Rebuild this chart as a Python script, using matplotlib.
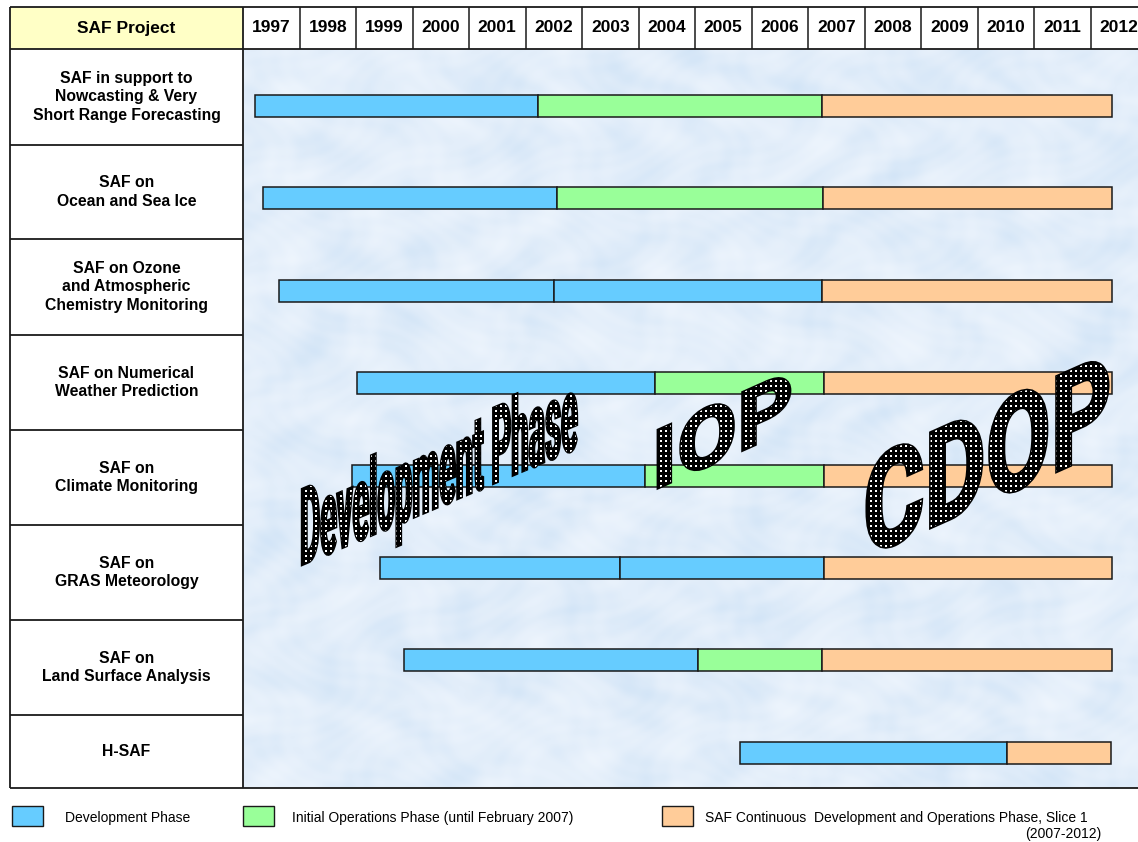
# SAF project timeline (gantt style table with word-art phase labels)
import matplotlib.pyplot as plt
import numpy as np
from matplotlib.patches import PathPatch, Rectangle
from matplotlib.textpath import TextPath
from matplotlib.font_manager import FontProperties
from matplotlib.transforms import Affine2D
from matplotlib.colors import LinearSegmentedColormap

plt.rcParams['font.family'] = ['Liberation Sans', 'DejaVu Sans']

### DATA ###
projects = ["SAF in support to\nNowcasting & Very\nShort Range Forecasting",
            "SAF on\nOcean and Sea Ice",
            "SAF on Ozone\nand Atmospheric\nChemistry Monitoring",
            "SAF on Numerical\nWeather Prediction",
            "SAF on\nClimate Monitoring",
            "SAF on\nGRAS Meteorology",
            "SAF on\nLand Surface Analysis",
            "H-SAF"]
years = list(range(1997, 2013))

# phase boundaries in decimal years
dev_start = [1997.21, 1997.35, 1997.64, 1999.02, 1998.93, 1999.42, 1999.85, 2005.80]
split = [2002.22, 2002.56, 2002.50, 2004.29, 2004.12, 2003.67, 2005.05, 2010.52]
second_phase = ["iop", "iop", "dev", "iop", "iop", "dev", "iop", "cdop"]
cdop_start = [2007.25, 2007.27, 2007.25, 2007.28, 2007.28, 2007.28, 2007.25, 2010.52]
cdop_end = [2012.38, 2012.38, 2012.38, 2012.38, 2012.38, 2012.38, 2012.38, 2012.36]

legend_labels = ["Development Phase",
                 "Initial Operations Phase (until February 2007)",
                 "SAF Continuous  Development and Operations Phase, Slice 1"]

colors = {"dev": "#66ccff", "iop": "#99ff99", "cdop": "#ffcc99"}
edge = "#1a1a1a"

### LAYOUT (pixels) ###
W, H = 1138, 842
x_left, x_col, x_right = 10, 243, 1138
y_top, y_head, y_bot = 7, 49, 788
px_year = 56.5
row_edges = [49, 145, 239, 335, 430, 525, 620, 715, 788]
row0, row_step = 106, 92.4   # bar centre of first row and spacing

fig = plt.figure(figsize=(W / 100, H / 100), dpi=100)

# chart area
ax = fig.add_axes([x_col / W, 1 - y_bot / H, (x_right - x_col) / W, (y_bot - y_head) / H])
ax.set_zorder(1)
ax.set_xlim(1997, 1997 + (x_right - x_col) / px_year)
ax.set_ylim((y_bot - row0) / row_step, (y_head - row0) / row_step)
ax.axis('off')

# mottled light blue background
gy, gx = np.mgrid[0:1:300j, 0:1:380j]
tex = (np.sin(gx * 31 + 3 * np.sin(gy * 17 + gx * 5)) * np.cos(gy * 27 + 2 * np.sin(gx * 19))
       + 0.7 * np.sin(gx * 71 + 4 * np.cos(gy * 23)) * np.sin(gy * 67 + 3 * np.sin(gx * 11))
       + 0.4 * np.sin(gx * 153 + 5 * np.sin(gy * 41)) * np.cos(gy * 171 + 4 * np.cos(gx * 37)))
bg = LinearSegmentedColormap.from_list("bg", ["#d3e5f7", "#e3eefa", "#eef5fd"])
ax.imshow(tex, cmap=bg, extent=(0, 1, 0, 1), transform=ax.transAxes, aspect='auto',
          interpolation='bicubic', zorder=0)

bh = 22 / row_step
for i in range(len(projects)):
    ax.barh(i, split[i] - dev_start[i], left=dev_start[i], height=bh,
            color=colors["dev"], edgecolor=edge, lw=1.1, zorder=2)
    if cdop_start[i] > split[i]:
        ax.barh(i, cdop_start[i] - split[i], left=split[i], height=bh,
                color=colors[second_phase[i]], edgecolor=edge, lw=1.1, zorder=2)
    ax.barh(i, cdop_end[i] - cdop_start[i], left=cdop_start[i], height=bh,
            color=colors["cdop"], edgecolor=edge, lw=1.1, zorder=2)

# header with years
hx = fig.add_axes([x_col / W, 1 - y_head / H, (x_right - x_col) / W, (y_head - y_top) / H])
hx.set_xlim(ax.get_xlim())
hx.set_ylim(0, 1)
hx.axis('off')
hx.vlines(years[1:], 0, 1, color=edge, lw=1.1)
for yr in years:
    hx.text(yr + 0.5, 0.5, str(yr), ha='center', va='center', fontsize=12.5, fontweight='bold')

# table frame, project labels, legend
fr = fig.add_axes([0, 0, 1, 1])
fr.set_zorder(2)
fr.set_xlim(0, W)
fr.set_ylim(H, 0)
fr.axis('off')
fr.add_patch(Rectangle((x_left, y_top), x_col - x_left, y_head - y_top, facecolor="#ffffc6",
                       edgecolor='none', zorder=0))
fr.text((x_left + x_col) / 2, (y_top + y_head) / 2, "SAF Project", ha='center', va='center',
        fontsize=12.5, fontweight='bold')
fr.hlines([y_top, y_head, y_bot], x_left, x_right, color=edge, lw=1.3)
fr.hlines(row_edges[1:-1], x_left, x_col, color=edge, lw=1.3)
fr.vlines([x_left, x_col], y_top, y_bot, color=edge, lw=1.3)
for i, name in enumerate(projects):
    fr.text((x_left + x_col) / 2, (row_edges[i] + row_edges[i + 1]) / 2, name, ha='center',
            va='center', fontsize=11.3, fontweight='bold', linespacing=1.3)

leg_x = [12, 243, 662]
leg_tx = [65, 292, 705]
for k, key in enumerate(["dev", "iop", "cdop"]):
    fr.add_patch(Rectangle((leg_x[k], 806), 31, 20, facecolor=colors[key], edgecolor=edge, lw=1))
    fr.text(leg_tx[k], 818, legend_labels[k], ha='left', va='center', fontsize=10)
fr.text(1101, 834, "(2007-2012)", ha='right', va='center', fontsize=10)

# word-art phase captions: black letters with white dot grid
art = fig.add_axes([0, 0, 1, 1])
art.set_zorder(3)
art.axis('off')
rows = np.arange(H)[:, None] % 5 < 2
cols = np.arange(W)[None, :] % 5 < 2
dots = np.zeros((H, W, 4))
dots[..., 3] = 1
dots[rows & cols] = [1, 1, 1, 1]
fp = FontProperties(family='Roboto', weight='bold')
cap_ref = TextPath((0, 0), "H", size=100, prop=fp).get_extents().height


def wordart(text, x0, y0, width, cap, slope, lw):
    tp = TextPath((0, 0), text, size=100, prop=fp)
    ext = tp.get_extents()
    tr = (Affine2D().translate(-ext.x0, 0).scale(width / ext.width, cap / cap_ref)
          .skew_deg(0, slope).translate(x0, H - y0))
    body = PathPatch(tr.transform_path(tp), facecolor='black', edgecolor='black', lw=lw, zorder=5)
    art.add_patch(body)
    im = art.imshow(dots, extent=(0, W, 0, H), interpolation='none', zorder=6)
    im.set_clip_path(body)


wordart("Development Phase", 302, 565, 275, 76, 23, 1.7)
wordart("IOP", 658, 488, 132, 58, 24, 2.0)
wordart("CDOP", 867, 556, 241, 95, 24, 2.2)
art.set_xlim(0, W)
art.set_ylim(0, H)
art.set_aspect('auto')

plt.savefig("out.png", dpi=100)
